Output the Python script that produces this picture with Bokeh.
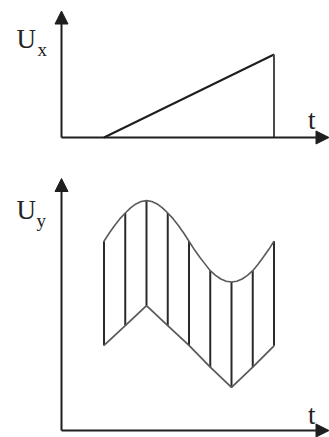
from bokeh.plotting import figure
from bokeh.models import Range1d, Arrow, NormalHead
from bokeh.layouts import column
from bokeh.core.properties import value
from bokeh.embed import file_html
from bokeh.resources import INLINE

# ---------------- data ----------------
# top panel: sweep (sawtooth) voltage Ux versus time t
ramp_t = [2, 10]
ramp_u = [0, 4]
flyback_t = [10, 10]
flyback_u = [4, 0]

# bottom panel: signal Uy (upper curve) sampled over the sweep
curve_t = [2.00, 2.25, 2.50, 2.75, 3.00, 3.25, 3.50, 3.75, 4.00,
           4.25, 4.50, 4.75, 5.00, 5.25, 5.50, 5.75, 6.00,
           6.25, 6.50, 6.75, 7.00, 7.25, 7.50, 7.75, 8.00,
           8.25, 8.50, 8.75, 9.00, 9.25, 9.50, 9.75, 10.00]
curve_u = [9.12, 9.52, 9.88, 10.21, 10.48, 10.73, 10.92, 11.04, 11.08,
           11.04, 10.92, 10.73, 10.48, 10.21, 9.88, 9.52, 9.12,
           8.72, 8.36, 8.03, 7.70, 7.48, 7.30, 7.19, 7.16,
           7.19, 7.30, 7.48, 7.70, 8.01, 8.36, 8.72, 9.12]

sample_t = [2, 3, 4, 5, 6, 7, 8, 9, 10]
sample_top = [9.12, 10.48, 11.08, 10.48, 9.12, 7.70, 7.16, 7.70, 9.12]
sample_bottom = [4.10, 5.05, 6.02, 5.05, 4.10, 3.05, 2.08, 3.05, 4.08]

top_labels = ["U", "x", "t"]
bottom_labels = ["U", "y", "t"]

# ---------------- layout constants ----------------
W = 329
PX_T = 21.25       # px per unit of t
PX_U = 20.75       # px per unit of U
ORIGIN_X = 61      # y-axis position inside figure (px from left)
TXT_UP = 8         # baseline correction for text glyphs (px)

def x_range():
    return Range1d(-ORIGIN_X / PX_T, (W - ORIGIN_X) / PX_T)

def make_fig(h, axis_px):
    # axis_px: pixel row (from figure top) of the t axis
    p = figure(width=W, height=h, x_range=x_range(),
               y_range=Range1d(-(h - axis_px) / PX_U, axis_px / PX_U),
               output_backend="svg", toolbar_location=None,
               x_axis_type=None, y_axis_type=None,
               min_border=0, min_border_left=0, min_border_right=0,
               min_border_top=0, min_border_bottom=0,
               outline_line_color=None, background_fill_color="white",
               border_fill_color="white")
    return p

AX = "#1e1e1e"
FONT = value("Liberation Serif")

def add_axes(p, y_tip, x_tip):
    p.add_layout(Arrow(end=NormalHead(size=13, fill_color=AX, line_color=AX, line_width=1),
                       x_start=0, y_start=0, x_end=0, y_end=y_tip,
                       line_color=AX, line_width=2))
    p.add_layout(Arrow(end=NormalHead(size=13, fill_color=AX, line_color=AX, line_width=1),
                       x_start=0, y_start=0, x_end=x_tip, y_end=0,
                       line_color=AX, line_width=2))

def add_labels(p, labels, a, ux, uy, sx, sy, tx, ty):
    # positions given as (px from y-axis, page-px baseline above the t axis)
    p.text(x=[ux / PX_T], y=[(a - uy + TXT_UP) / PX_U], text=[labels[0]],
           text_font=FONT, text_font_size="27px",
           text_color="#222222", text_baseline="alphabetic", text_align="left")
    p.text(x=[sx / PX_T], y=[(a - sy + TXT_UP) / PX_U], text=[labels[1]],
           text_font=FONT, text_font_size="19px",
           text_color="#222222", text_baseline="alphabetic", text_align="left")
    p.text(x=[tx / PX_T], y=[(a - ty + TXT_UP) / PX_U], text=[labels[2]],
           text_font=FONT, text_font_size="27px",
           text_color="#222222", text_baseline="alphabetic", text_align="left")

# ---------------- top panel ----------------
H1 = 160
A1 = 137
p1 = make_fig(H1, A1)
add_axes(p1, (A1 - 10.5) / PX_U, (W - ORIGIN_X - 0.5) / PX_T)
p1.line(ramp_t, ramp_u, line_color="#1e1e1e", line_width=2)
p1.line(flyback_t, flyback_u, line_color="#4a4a4a", line_width=2)
add_labels(p1, top_labels, A1, -45, 46, -24, 57, 246.5, 127.5)

# ---------------- bottom panel ----------------
H2 = 277
A2 = 270
p2 = make_fig(H2, A2)
add_axes(p2, (A2 - 18) / PX_U, (W - ORIGIN_X - 0.5) / PX_T)
p2.segment(x0=sample_t, y0=sample_bottom, x1=sample_t, y1=sample_top,
           line_color="#2a2a2a", line_width=2)
p2.line(curve_t, curve_u, line_color="#5a5a5a", line_width=1.6)
p2.line(sample_t, sample_bottom, line_color="#5a5a5a", line_width=1.8)
add_labels(p2, bottom_labels, A2, -45, 57, -25, 68, 246.5, 262)

layout = column(p1, p2, spacing=0)
open("out.html", "w").write(file_html(layout, INLINE))
